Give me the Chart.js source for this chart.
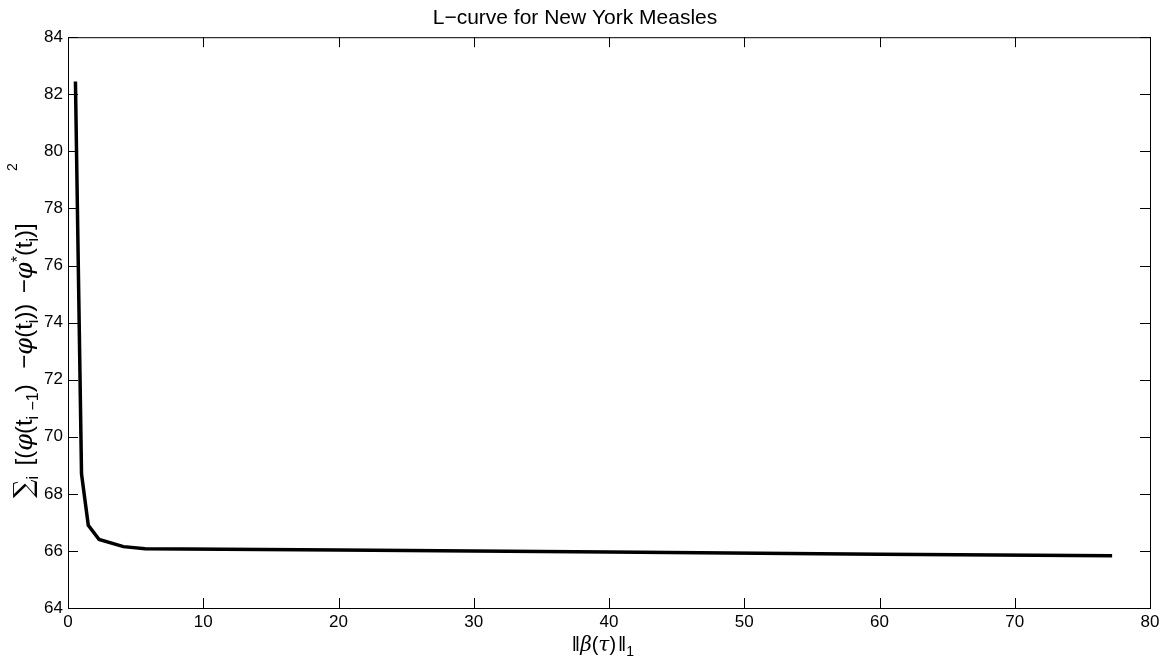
<!DOCTYPE html>
<html>
<head>
<meta charset="utf-8">
<script src="https://cdn.jsdelivr.net/npm/chart.js@4/dist/chart.umd.min.js"></script>
<style>
  html, body { margin: 0; padding: 0; background: #fff; }
  #wrap { width: 1167px; height: 660px; }
</style>
</head>
<body>
<div id="wrap"><canvas id="lcurve" width="1167" height="660"></canvas></div>
<script>
// values
const normValues = [0.55, 1.0, 1.5, 2.3, 4.1, 5.7, 20, 40, 60, 77.2];
const residValues = [82.45, 68.7, 66.9, 66.4, 66.15, 66.08, 66.03, 65.96, 65.88, 65.83];
const xTicks = [0, 10, 20, 30, 40, 50, 60, 70, 80];
const yTicks = [64, 66, 68, 70, 72, 74, 76, 78, 80, 82, 84];
const chartTitle = 'L\u2212curve for New York Measles';

const SANS = 'Liberation Sans, Arial, Helvetica, sans-serif';
const BIG = '24px ' + SANS;
const SMALL = '16px ' + SANS;
const MATH = 'italic 24px "DejaVu Serif", serif';

// axis labels are typeset by hand (sub/superscripts), pieces: text, font, baseline shift, gap weight
const yLabelParts = [
    { t: '\u2211', f: '26px "DejaVu Serif", serif' },
    { t: 'i', f: SMALL, dy: 6 },
    { gap: 1 },
    { t: '[(', f: BIG },
    { t: '\u03C6', f: MATH },
    { t: '(t', f: BIG },
    { t: 'i', f: SMALL, dy: 6 },
    { gap: 0.5 },
    { t: '\u22121', f: SMALL, dy: 6 },
    { t: ')', f: BIG },
    { gap: 1.5 },
    { t: '\u2212', f: BIG },
    { t: '\u03C6', f: MATH },
    { t: '(t', f: BIG },
    { t: 'i', f: SMALL, dy: 6 },
    { t: '))', f: BIG },
    { gap: 1 },
    { t: '\u2212', f: BIG },
    { t: '\u03C6', f: MATH },
    { t: '*', f: SMALL, dy: -9 },
    { t: '(t', f: BIG },
    { t: 'i', f: SMALL, dy: 6 },
    { t: ')]', f: BIG },
    { gap: 5 },
    { t: '2', f: '14px ' + SANS, dy: -15 }
];
const xLabelParts = [
    { t: '\u2016', f: '20px ' + SANS },
    { t: '\u03B2', f: 'italic 20px "DejaVu Serif", serif' },
    { t: '(', f: '20px ' + SANS },
    { t: '\u03C4', f: 'italic 20px "DejaVu Serif", serif' },
    { t: ')', f: '20px ' + SANS },
    { gap: 1 },
    { t: '\u2016', f: '20px ' + SANS },
    { t: '1', f: '14px ' + SANS, dy: 5 }
];

// draw pieces along a baseline centred on 0; span = total length to fill with gaps
function drawRich(ctx, parts, span) {
    let natural = 0, weights = 0;
    parts.forEach(p => {
        if (p.gap) { weights += p.gap; return; }
        ctx.font = p.f;
        p.w = ctx.measureText(p.t).width;
        natural += p.w;
    });
    const unit = weights ? Math.max(2, (span - natural) / weights) : 0;
    let x = -(natural + unit * weights) / 2;
    parts.forEach(p => {
        if (p.gap) { x += p.gap * unit; return; }
        ctx.font = p.f;
        ctx.fillText(p.t, x, p.dy || 0);
        x += p.w;
    });
}

const axisLabels = {
    id: 'axisLabels',
    afterDraw(chart) {
        const { ctx, chartArea: a } = chart;
        ctx.save();
        ctx.fillStyle = '#000';
        ctx.textBaseline = 'alphabetic';
        ctx.textAlign = 'left';
        ctx.save();
        ctx.translate(32, (a.top + a.bottom) / 2 + 8);
        ctx.rotate(-Math.PI / 2);
        drawRich(ctx, yLabelParts, 335);
        ctx.restore();
        ctx.translate((a.left + a.right) / 2 - 6, 651);
        drawRich(ctx, xLabelParts, 56);
        ctx.restore();
    }
};

// matlab style box with inward ticks on all four sides
const boxTicks = {
    id: 'boxTicks',
    afterDraw(chart) {
        const { ctx, chartArea: a, scales } = chart;
        const len = 10;
        ctx.save();
        ctx.strokeStyle = '#000';
        ctx.lineWidth = 1;
        ctx.strokeRect(a.left + 0.5, a.top + 0.5, a.right - a.left, a.bottom - a.top);
        ctx.beginPath();
        xTicks.forEach(v => {
            const px = Math.round(scales.x.getPixelForValue(v)) + 0.5;
            ctx.moveTo(px, a.bottom); ctx.lineTo(px, a.bottom - len);
            ctx.moveTo(px, a.top); ctx.lineTo(px, a.top + len);
        });
        yTicks.forEach(v => {
            const py = Math.round(scales.y.getPixelForValue(v)) + 0.5;
            ctx.moveTo(a.left, py); ctx.lineTo(a.left + len, py);
            ctx.moveTo(a.right, py); ctx.lineTo(a.right - len, py);
        });
        ctx.stroke();
        ctx.restore();
    }
};

new Chart(document.getElementById('lcurve'), {
    type: 'line',
    data: {
        datasets: [{
            data: normValues.map((x, i) => ({ x, y: residValues[i] })),
            borderColor: '#000',
            borderWidth: 3.5,
            pointRadius: 0,
            tension: 0,
            fill: false
        }]
    },
    options: {
        responsive: false,
        animation: false,
        layout: { padding: { left: 0, right: 17, top: 0, bottom: 0 } },
        plugins: {
            legend: { display: false },
            tooltip: { enabled: false },
            title: {
                display: true,
                text: chartTitle,
                color: '#000',
                font: { family: SANS, size: 21, weight: 'normal' },
                padding: { top: 6, bottom: 6 }
            }
        },
        scales: {
            x: {
                type: 'linear',
                min: 0, max: 80,
                afterFit(s) { s.height = 52; },
                afterBuildTicks(s) { s.ticks = xTicks.map(v => ({ value: v })); },
                grid: { display: false, drawTicks: false },
                border: { display: true, color: '#000' },
                ticks: { color: '#000', font: { family: SANS, size: 17 }, padding: 4, maxRotation: 0 }
            },
            y: {
                type: 'linear',
                min: 64, max: 84,
                afterFit(s) { s.width = 68; },
                afterBuildTicks(s) { s.ticks = yTicks.map(v => ({ value: v })); },
                grid: { display: false, drawTicks: false },
                border: { display: true, color: '#000' },
                ticks: { color: '#000', font: { family: SANS, size: 17 }, padding: 5 }
            }
        }
    },
    plugins: [boxTicks, axisLabels]
});
</script>
</body>
</html>
